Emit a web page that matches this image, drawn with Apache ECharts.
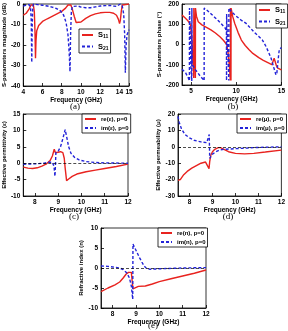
<!DOCTYPE html>
<html>
<head>
<meta charset="utf-8">
<script src="https://cdn.jsdelivr.net/npm/echarts@6/dist/echarts.min.js"></script>
<style>
  html, body { margin: 0; padding: 0; background: #fff; }
  #chart { width: 288px; height: 331px; }
</style>
</head>
<body>
<div id="chart"></div>
<script>
// (a) S-parameter magnitude, dB
const s11Mag = [[4,-5.5],[4.3,-4.5],[4.6,-2.5],[4.8,-0.5],[4.9,0],[5.05,-0.5],[5.15,-4],[5.22,-14],[5.27,-26.5],[5.32,-18],[5.4,-13],[5.6,-10.5],[6,-8.5],[6.5,-7.2],[7,-6],[7.5,-4.8],[8,-3.6],[8.4,-2],[8.65,-0.5],[8.8,0],[8.95,-0.5],[9.1,-2.5],[9.3,-6],[9.5,-9],[9.7,-9.6],[10,-8.8],[10.5,-7],[11,-5.7],[11.5,-4.8],[12,-4.3],[12.5,-4.1],[13,-4.1],[13.4,-4.5],[13.7,-5.5],[13.9,-7.5],[14.02,-9.5],[14.1,-8],[14.2,-3.5],[14.3,-0.5],[14.4,0],[15,0]];
const s21Mag = [[4,-1],[4.3,-0.5],[4.6,-0.3],[4.75,-1.5],[4.83,-8],[4.88,-28.5],[4.93,-10],[4.98,-2],[5.05,0],[5.5,-0.3],[6,-0.6],[6.5,-1],[7,-1.5],[7.5,-2.3],[7.9,-3.5],[8.2,-5.5],[8.45,-9],[8.65,-15],[8.78,-24],[8.86,-33],[8.92,-15],[9,-4],[9.1,-1.2],[9.3,-0.5],[9.7,-1],[10,-1.5],[10.5,-1.8],[11,-1.8],[11.5,-1.4],[12,-1],[12.5,-0.8],[13,-0.7],[13.4,-1],[13.7,-1.2],[13.9,-0.3],[14.1,0],[14.3,-1],[14.45,-5],[14.55,-15],[14.62,-33.5],[14.7,-20],[14.8,-15],[15,-12.5]];

// (b) S-parameter phase, degrees
const s11Phase = [[4,145],[4.3,133],[4.6,120],[4.85,105],[4.95,95],[5.1,20],[5.2,-80],[5.3,-165],[5.31,180],[5.4,20],[5.48,-165],[5.49,180],[5.6,140],[5.8,112],[6.2,97],[6.7,85],[7.2,72],[7.7,57],[8.2,38],[8.6,20],[8.95,0],[9.1,-40],[9.25,-110],[9.35,-178],[9.36,180],[9.42,-178],[9.43,180],[9.5,165],[9.6,140],[9.84,104],[10.2,60],[10.57,22],[11,-5],[11.4,-25],[11.84,-44],[12.5,-65],[13,-78],[13.67,-93],[13.95,-100],[14.1,-80],[14.2,-68],[14.3,-75],[14.45,-105],[14.6,-117],[15,-125]];
const s21Phase = [[4,-122],[4.4,-140],[4.7,-165],[4.82,-180],[4.83,180],[4.9,60],[5,-120],[5.08,-180],[5.09,180],[5.13,-100],[5.5,-125],[6,-155],[6.45,-178],[6.46,180],[6.8,168],[7.2,152],[7.6,135],[8,118],[8.4,100],[8.8,80],[8.92,65],[8.93,-178],[8.94,150],[9.18,-178],[9.19,180],[9.35,172],[9.47,162],[10,140],[10.5,122],[11.1,104],[11.6,80],[12,60],[12.5,40],[12.9,22],[13.3,-10],[13.6,-40],[13.86,-68],[14.1,-105],[14.3,-135],[14.4,-150],[14.5,-140],[14.6,-95],[14.7,-50],[14.77,-25],[14.9,-20],[15,-15]];

// (c) effective permittivity
const reEps = [[7.5,-1.2],[7.7,-1.5],[7.9,-1.6],[8.1,-1.4],[8.3,-0.9],[8.5,-0.2],[8.65,0.8],[8.75,2.2],[8.83,4.3],[8.88,3.2],[8.95,3.4],[9.1,3.5],[9.2,3.2],[9.26,1.5],[9.3,-1.5],[9.36,-5.3],[9.45,-4.8],[9.6,-4],[9.8,-3.3],[10.2,-2.6],[10.6,-2.1],[11,-1.6],[11.5,-1],[12,-0.3]];
const imEps = [[7.5,-0.3],[8,-0.2],[8.4,0],[8.6,0.3],[8.75,0.3],[8.82,-1],[8.86,-4],[8.88,-1],[8.9,3.2],[9,3.7],[9.1,5],[9.2,7.5],[9.3,10.2],[9.38,7.5],[9.45,5],[9.55,3],[9.7,1.8],[9.9,1],[10.2,0.5],[10.6,0.2],[11,0.1],[12,0]];

// (d) effective permeability
const reMu = [[7.5,-20.5],[7.6,-20],[7.75,-17],[7.9,-15],[8.1,-13],[8.3,-11.5],[8.5,-10],[8.7,-9.3],[8.78,-10.5],[8.85,-13.3],[8.88,-9],[8.93,-5],[9,-3],[9.1,-1.5],[9.25,-0.5],[9.35,-0.5],[9.5,-1.5],[9.7,-3],[10,-4],[10.4,-4.3],[10.8,-4],[11.3,-3.2],[12,-2]];
const imMu = [[7.5,18.5],[7.55,15],[7.65,11],[7.8,7.5],[8,5.5],[8.2,4],[8.5,3],[8.75,2.5],[8.82,3.5],[8.86,7.5],[8.88,-7],[8.92,-6],[9,-4.5],[9.15,-3],[9.3,-2],[9.5,-1.5],[9.8,-1.3],[10.2,-1],[10.8,-0.5],[11.5,-0.2],[12,0]];

// (e) refractive index
const reN = [[7.5,-5.9],[7.8,-5],[8.1,-4.2],[8.3,-3.5],[8.45,-2.5],[8.58,-1.5],[8.68,-1.1],[8.8,-1.1],[8.84,-1.5],[8.87,-5.2],[8.92,-4.8],[9.1,-4.6],[9.4,-4.5],[9.7,-4],[10,-3.4],[10.5,-2.7],[11,-2],[11.5,-1.3],[12,-0.5]];
const imN = [[7.5,0.5],[7.8,0.4],[8.1,0.2],[8.3,0],[8.45,-0.4],[8.6,-1.2],[8.72,-2.5],[8.8,-4.5],[8.86,-7.8],[8.87,6],[8.95,5],[9.05,3.8],[9.15,2.6],[9.25,1.5],[9.35,0.5],[9.45,-0.1],[9.6,-0.3],[10,-0.2],[11,0],[12,0.1]];

const phaseTicks = [5, 10, 15];
const freqTicks = [8, 9, 10, 11, 12];

const RED = '#e8231f';
const BLUE = '#2323d8';
const FONT = '"Liberation Sans", Arial, sans-serif';

const grids = [
  { left: 22, top: 4, width: 107, height: 82 },
  { left: 182, top: 4, width: 100, height: 81 },
  { left: 23, top: 114, width: 105, height: 82 },
  { left: 178, top: 114, width: 105, height: 82 },
  { left: 101, top: 228, width: 105, height: 80 }
].map(g => Object.assign({ show: true, borderColor: '#000', borderWidth: 0.8 }, g));

const baseAxis = (gi) => ({
  gridIndex: gi,
  type: 'value',
  axisLine: { onZero: false, lineStyle: { color: '#000', width: 0.8 } },
  axisTick: { inside: true, length: 3, lineStyle: { color: '#000', width: 0.8 } },
  axisLabel: { color: '#000', fontSize: 6.5, fontWeight: 'bold', fontFamily: FONT, margin: 3 },
  splitLine: { show: false },
  nameLocation: 'middle',
  nameTextStyle: { color: '#000', fontSize: 6.5, fontWeight: 'bold', fontFamily: FONT }
});

const xAx = (gi, min, max, ticks, interval) => {
  const a = Object.assign(baseAxis(gi), { min, max, name: 'Frequency (GHz)', nameGap: 11 });
  if (ticks) {
    a.axisTick.customValues = ticks;
    a.axisLabel.customValues = ticks;
  } else {
    a.interval = interval;
  }
  return a;
};
const yAx = (gi, min, max, interval, name, gap) => {
  const a = Object.assign(baseAxis(gi), { min, max, interval, name, nameGap: gap });
  a.nameTextStyle.fontSize = 6;
  return a;
};

const line = (name, data, gi, color, dashed, extra) => Object.assign({
  name, type: 'line', data, xAxisIndex: gi, yAxisIndex: gi,
  symbol: 'none', showSymbol: false, animation: false,
  lineStyle: { color, width: 1.4, type: dashed ? [3, 2] : 'solid' },
  itemStyle: { color }
}, extra || {});

const zeroLine = {
  markLine: {
    silent: true, symbol: 'none', label: { show: false },
    lineStyle: { color: '#000', type: [3, 2], width: 0.7 },
    data: [{ yAxis: 0 }]
  }
};

const legendBase = (names, left, top) => ({
  data: names, left, top, orient: 'vertical',
  borderColor: '#000', borderWidth: 0.8, backgroundColor: '#fff',
  padding: [2, 2, 2, 2], itemGap: 3, itemWidth: 11, itemHeight: 6,
  itemStyle: { opacity: 0 },
  textStyle: {
    color: '#000', fontSize: 6, fontWeight: 'bold', fontFamily: FONT,
    rich: {
      m: { fontSize: 7.5, fontWeight: 'bold', fontFamily: FONT, color: '#000' },
      s: { fontSize: 5, fontWeight: 'bold', fontFamily: FONT, color: '#000', verticalAlign: 'bottom', padding: [4, 0, 0, 0] }
    }
  },
  formatter: n => /^S\d/.test(n) ? '{m|S}{s|' + n.slice(1) + '}' : n
});

const caption = (text, x, y) => ({
  type: 'text', x, y,
  style: { text, font: '9px "Liberation Serif", serif', fill: '#000', textAlign: 'center', textVerticalAlign: 'middle' }
});

const chart = echarts.init(document.getElementById('chart'), null, { renderer: 'canvas' });
chart.setOption({
  animation: false,
  backgroundColor: '#fff',
  textStyle: { fontFamily: FONT },
  grid: grids,
  xAxis: [
    xAx(0, 4, 15, null, 2),
    xAx(1, 4, 15, phaseTicks),
    xAx(2, 7.5, 12, freqTicks),
    xAx(3, 7.5, 12, freqTicks),
    xAx(4, 7.5, 12, freqTicks)
  ],
  yAxis: [
    yAx(0, -40, 0, 10, 'S-parameters magnitude (dB)', 13),
    yAx(1, -200, 200, 100, 'S-parameters phase (\u00b0)', 17),
    yAx(2, -10, 15, 5, 'Effective permittivity (\u03b5)', 13),
    yAx(3, -30, 20, 10, 'Effective permeability (\u03bc)', 14),
    yAx(4, -10, 10, 5, 'Refractive index (n)', 14)
  ],
  legend: [
    legendBase(['S11', 'S21'], 79, 29),
    legendBase(['S11', 'S21'], 256, 4),
    legendBase(['re(\u03b5), p=0', 'im(\u03b5), p=0'], 82, 114),
    legendBase(['re(\u03bc), p=0', 'im(\u03bc), p=0'], 237, 114),
    legendBase(['re(n), p=0', 'im(n), p=0'], 158, 228)
  ],
  series: [
    line('S11', s11Mag, 0, RED, false),
    line('S21', s21Mag, 0, BLUE, true),
    line('S11', s11Phase, 1, RED, false),
    line('S21', s21Phase, 1, BLUE, true),
    line('re(\u03b5), p=0', reEps, 2, RED, false, zeroLine),
    line('im(\u03b5), p=0', imEps, 2, BLUE, true),
    line('re(\u03bc), p=0', reMu, 3, RED, false, zeroLine),
    line('im(\u03bc), p=0', imMu, 3, BLUE, true),
    line('re(n), p=0', reN, 4, RED, false, zeroLine),
    line('im(n), p=0', imN, 4, BLUE, true)
  ],
  graphic: [
    caption('(a)', 75, 107),
    caption('(b)', 233, 107),
    caption('(c)', 74, 217),
    caption('(d)', 228, 217),
    caption('(e)', 153, 326)
  ]
});
</script>
</body>
</html>
